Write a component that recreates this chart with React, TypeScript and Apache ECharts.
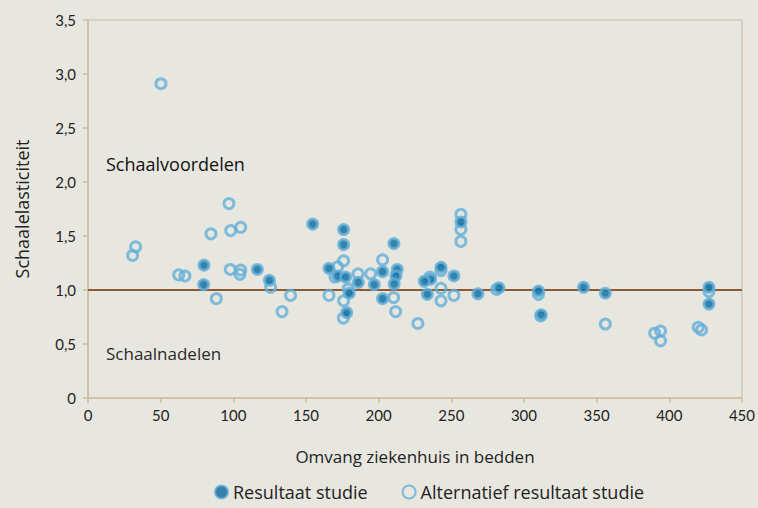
import React, { useEffect, useRef } from "react";
import * as echarts from "echarts";

const xTicks = { min: 0, max: 450, interval: 50 };
const yTicks = { min: 0, max: 3.5, interval: 0.5 };
const referenceLevel = 1.0;

const resultaatStudie: [number, number][] = [
  [79.8, 1.23], [79.6, 1.05], [116.5, 1.19], [124.8, 1.09], [154.6, 1.61],
  [165.8, 1.2], [171.8, 1.13], [175.9, 1.56], [175.9, 1.42], [177.3, 1.12],
  [179.8, 0.97], [178, 0.79], [186, 1.07], [197, 1.05], [202.7, 1.17],
  [202.7, 0.92], [210.5, 1.43], [212.8, 1.19], [211.9, 1.13], [210.7, 1.055],
  [256.6, 1.63], [242.9, 1.21], [235.8, 1.1], [231.4, 1.08], [251.8, 1.13],
  [233.5, 0.96], [268.3, 0.965], [282.8, 1.02], [310, 0.99], [311.9, 0.77],
  [341, 1.025], [356, 0.97], [427.3, 1.025], [427.3, 0.87],
];

const alternatiefResultaat: [number, number][] = [
  [50.2, 2.91], [32.8, 1.4], [30.7, 1.32], [97.0, 1.8], [84.6, 1.52],
  [98.2, 1.55], [105.1, 1.58], [62.4, 1.14], [66.7, 1.13], [88.3, 0.92],
  [97.9, 1.19], [105.1, 1.185], [104.6, 1.145], [125.7, 1.025], [139.4, 0.95],
  [133.5, 0.8], [175.9, 1.27], [171.8, 1.215], [169.9, 1.12], [165.8, 0.95],
  [179.1, 1.01], [175.9, 0.9], [175.7, 0.74], [185.8, 1.15], [194.5, 1.15],
  [202.7, 1.28], [210.3, 0.93], [211.7, 0.8], [227, 0.69], [256.6, 1.7],
  [256.6, 1.56], [256.6, 1.45], [242.9, 1.18], [235.3, 1.12], [242.9, 1.015],
  [242.9, 0.9], [251.8, 0.95], [281.2, 1.005], [310, 0.96], [311.5, 0.76],
  [356, 0.685], [389.9, 0.6], [394, 0.62], [394, 0.53], [419.9, 0.655],
  [422.2, 0.63], [427.3, 0.985],
];

const seriesNames = ["Resultaat studie", "Alternatief resultaat studie"];
const annotations = { boven: "Schaalvoordelen", onder: "Schaalnadelen" };
const axisNames = { x: "Omvang ziekenhuis in bedden", y: "Schaalelasticiteit" };

const BG = "#e8e7df";
const AXIS = "#cbbd9f";
const LIGHT = "#64afd9";
const DARK = "#086a9c";
const FONT = "'Open Sans'";
const TICKFONT = "Lato";

export default function App() {
  const ref = useRef<HTMLDivElement>(null);
  useEffect(() => {
    if (!ref.current) return;
    const chart = echarts.init(ref.current, undefined, { renderer: "svg" });
    chart.setOption({
      animation: false,
      backgroundColor: BG,
      textStyle: { fontFamily: FONT },
      grid: {
        left: 88, right: 16, top: 20, bottom: 110,
        show: true, borderColor: AXIS, borderWidth: 1, backgroundColor: "transparent",
      },
      xAxis: {
        type: "value",
        min: xTicks.min, max: xTicks.max, interval: xTicks.interval,
        name: axisNames.x, nameLocation: "middle", nameGap: 50,
        nameTextStyle: { fontSize: 17, color: "#222", fontFamily: FONT },
        axisLine: { show: true, lineStyle: { color: AXIS, width: 1.5 } },
        axisTick: { show: true, length: 5, lineStyle: { color: AXIS, width: 1.5 } },
        axisLabel: { fontSize: 15, color: "#222", margin: 9, fontFamily: TICKFONT },
        splitLine: { show: false },
      },
      yAxis: {
        type: "value",
        min: yTicks.min, max: yTicks.max, interval: yTicks.interval,
        name: axisNames.y, nameLocation: "middle", nameGap: 57,
        nameTextStyle: { fontSize: 18, color: "#222", fontFamily: FONT },
        axisLine: { show: true, lineStyle: { color: AXIS, width: 1.5 } },
        axisTick: { show: true, length: 5, lineStyle: { color: AXIS, width: 1.5 } },
        axisLabel: {
          fontSize: 15, color: "#222", margin: 12, fontFamily: TICKFONT,
          formatter: (v: number) => (v === 0 ? "0" : v.toFixed(1).replace(".", ",")),
        },
        splitLine: { show: false },
      },
      legend: {
        top: 483, left: 214, itemGap: 34, itemWidth: 13, itemHeight: 13, padding: 0,
        textStyle: { fontSize: 18, lineHeight: 18, color: "#222", fontFamily: FONT },
        data: seriesNames,
      },
      graphic: [
        {
          type: "text", left: 106, top: 155,
          style: { text: annotations.boven, font: `18px ${FONT}`, fill: "#111" },
        },
        {
          type: "text", left: 106, top: 345,
          style: { text: annotations.onder, font: `17px ${FONT}`, fill: "#2a2a2a" },
        },
      ],
      series: [
        {
          name: seriesNames[1],
          type: "scatter",
          data: alternatiefResultaat,
          symbol: "circle",
          symbolSize: 10,
          itemStyle: { color: "rgba(0,0,0,0)", borderColor: LIGHT, borderWidth: 3 },
          z: 2,
          markLine: {
            silent: true,
            symbol: "none",
            label: { show: false },
            lineStyle: { color: "#8b5a34", width: 2, type: "solid" },
            data: [{ yAxis: referenceLevel }],
            z: 1,
          },
        },
        {
          name: seriesNames[0],
          type: "scatter",
          data: resultaatStudie,
          symbol: "circle",
          symbolSize: 10,
          itemStyle: { color: DARK, borderColor: LIGHT, borderWidth: 3 },
          z: 3,
        },
      ],
    });
    return () => chart.dispose();
  }, []);
  return <div ref={ref} style={{ width: 758, height: 508, position: "absolute", left: 0, top: 0 }} />;
}
